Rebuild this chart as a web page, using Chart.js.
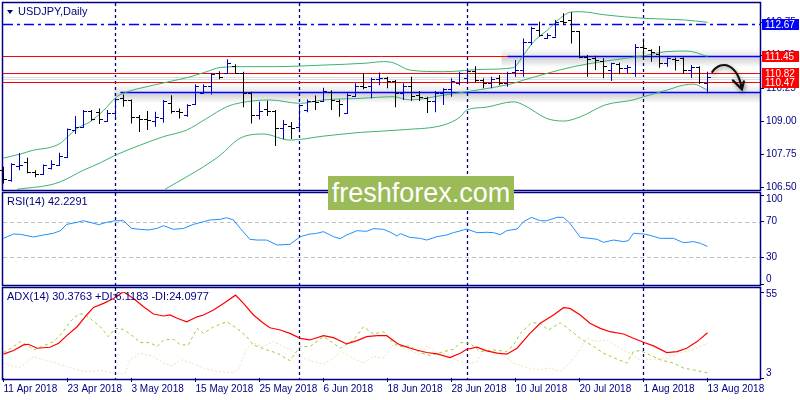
<!DOCTYPE html>
<html>
<head>
<meta charset="utf-8">
<script src="https://cdn.jsdelivr.net/npm/chart.js@4.4.0/dist/chart.umd.min.js"></script>
<style>
body { margin: 0; background: #fff; }
#quadro { position: relative; width: 800px; height: 400px; overflow: hidden; background: #fff; }
#quadro canvas { position: absolute; left: 0; }
.rotulo { position: absolute; left: 7px; font: 11px "Liberation Sans", Arial, sans-serif; color: #000080; white-space: nowrap; }
.triangulo { display: inline-block; width: 0; height: 0; border-left: 3px solid transparent; border-right: 3px solid transparent; border-top: 4px solid #000080; margin-right: 5px; vertical-align: 1px; }
#marca { position: absolute; left: 328px; top: 176px; width: 186px; height: 34px; background: #9bbb59; color: #fff;
  font: 27px "Liberation Sans", Arial, sans-serif; line-height: 34px; text-align: center; }
</style>
</head>
<body>
<div id="quadro">
  <canvas id="grafico-preco" width="800" height="192" style="top:0"></canvas>
  <canvas id="grafico-rsi" width="800" height="106" style="top:186px"></canvas>
  <canvas id="grafico-adx" width="800" height="118" style="top:282px"></canvas>
  <div class="rotulo" style="top:5px"><span class="triangulo"></span>USDJPY,Daily</div>
  <div class="rotulo" style="top:195px">RSI(14) 42.2291</div>
  <div class="rotulo" style="top:290px">ADX(14) 30.3763 +DI:6.1183 -DI:24.0977</div>
  <div id="marca">freshforex.com</div>
</div>
<script>
var aberturas = [107.14,106.77,107.30,107.46,107.08,106.99,107.21,107.33,107.65,108.68,
  108.78,109.38,109.35,109.01,109.29,109.86,109.80,109.16,109.06,109.01,
  109.10,109.69,109.39,109.23,109.64,110.05,110.33,110.83,110.83,111.08,
  110.83,110.05,109.23,109.47,109.38,108.72,108.81,108.78,109.42,109.77,
  109.77,110.11,109.77,109.31,109.95,110.34,110.33,110.58,110.64,110.52,
  110.05,110.33,109.98,109.86,109.76,110.05,110.20,110.45,110.62,110.91,
  110.55,110.43,110.64,110.43,110.86,110.93,112.00,112.45,112.16,112.19,
  112.79,112.83,112.41,111.44,111.40,111.28,110.93,111.16,111.00,110.81,
  111.79,111.69,111.53,111.19,111.35,111.38,110.93,111.06,110.43];
var maximas = [107.27,107.40,107.79,107.61,107.14,107.36,107.52,107.80,108.72,109.19,
  109.42,109.42,109.48,109.42,109.86,110.01,109.82,109.23,109.38,109.35,
  109.80,109.98,109.48,109.64,110.39,110.39,110.81,110.89,111.34,111.15,
  110.87,110.11,109.73,109.77,109.42,109.04,108.96,109.64,109.82,109.97,
  110.26,110.17,109.82,110.05,110.43,110.81,110.64,110.84,110.68,110.55,
  110.43,110.68,110.14,109.92,110.14,110.24,110.62,110.87,111.00,111.08,
  110.62,110.68,110.74,110.87,111.31,112.13,112.57,112.76,112.32,112.83,
  113.08,113.12,112.41,111.50,111.47,111.38,111.21,111.21,111.12,111.92,
  112.13,111.72,111.84,111.41,111.41,111.41,111.12,111.08,110.87];
var minimas = [106.64,106.70,107.14,107.02,106.87,106.99,107.17,107.33,107.62,108.51,
  108.76,109.01,108.89,108.97,109.10,109.54,108.91,108.59,108.66,108.78,
  108.94,109.29,109.10,109.16,109.61,110.02,110.01,110.58,110.81,110.81,
  109.52,108.91,109.06,109.19,108.06,108.31,108.32,108.66,109.33,109.42,
  109.73,109.42,109.16,109.29,109.92,110.20,109.86,110.36,110.24,109.52,
  109.80,109.77,109.76,109.31,109.33,109.61,109.92,110.36,110.43,110.47,
  110.24,110.24,110.36,110.30,110.68,110.68,111.88,112.19,112.13,112.19,
  112.64,111.94,111.38,110.68,110.93,110.62,110.52,110.77,110.81,110.68,
  111.31,111.25,111.02,111.06,110.91,110.78,110.64,110.40,110.05];
var fechamentos = [106.80,107.36,107.33,107.08,106.99,107.33,107.36,107.67,108.70,108.77,
  109.39,109.06,109.06,109.31,109.83,109.80,109.16,109.06,109.05,109.14,
  109.77,109.39,109.35,109.62,110.33,110.33,110.78,110.68,111.19,110.83,
  110.05,109.23,109.38,109.38,108.72,108.87,108.75,109.61,109.77,109.73,
  110.14,109.80,109.64,109.98,110.33,110.28,110.58,110.62,110.52,110.05,
  110.33,109.95,109.92,109.76,110.05,110.20,110.53,110.83,110.91,110.55,
  110.43,110.59,110.43,110.81,110.93,112.00,112.51,112.26,112.26,112.76,
  112.76,112.41,111.44,111.35,111.31,111.08,111.19,111.02,111.03,111.81,
  111.75,111.63,111.19,111.38,111.31,110.93,111.06,110.47,110.68];

// bandas de Bollinger
var bandaSupIdx = [0,2.1,3.75,5.8,7.1,8.1,9.2,10.8,12.5,14,14.6,18.75,22.9,25.4,27.1,30.2,33.7,40,45.2,47.5,48.7,50.8,55,60.2,63.7,65,66.25,68,69.6,70.8,72.1,75.2,80,85,88];
var bandaSupVal = [107.60,107.75,107.90,108.00,108.16,108.43,108.72,108.97,109.40,109.88,110.00,110.36,110.64,110.87,111.03,111.06,111.06,111.12,111.19,111.25,111.21,110.93,110.87,110.96,111.02,111.50,112.00,112.45,112.89,113.12,113.14,113.02,112.89,112.83,112.74];
var bandaMedIdx = [1.7,5.8,7.1,10,12.1,14,17.1,20,22.9,25.4,27.9,29.6,33.3,37.1,40,44.6,48.7,50.8,55,57.9,60.2,63.75,65,68,71.25,75.2,80,82.9,85.5,88];
var bandaMedVal = [106.42,106.58,106.70,107.14,107.42,107.71,108.09,108.41,108.66,109.10,109.54,109.69,109.80,109.67,109.80,109.86,109.92,109.80,109.98,110.11,110.22,110.43,110.55,110.81,111.06,111.27,111.47,111.63,111.65,111.45];
var bandaInfIdx = [20.2,22.9,25,27.1,29.2,30.2,32.5,35.8,40,44.6,50.4,55,57.1,57.9,60.2,63.75,65,67.9,70,72.1,75.2,78.7,80,82.9,85,86.2,88];
var bandaInfVal = [106.42,106.89,107.27,107.71,108.28,108.43,108.51,108.28,108.43,108.57,108.68,108.85,109.16,109.42,109.52,109.73,109.61,109.10,109.00,109.16,109.61,109.80,109.92,110.17,110.36,110.40,110.17];

// RSI(14)
var rsiIdx = [0,1.25,2.1,3.75,5,6.25,7.1,7.9,9.2,10,10.8,11.9,12.9,14,15,16,17.1,18.1,19.2,20,21.25,22.5,23.75,25,25.8,27.1,27.9,28.75,29.6,30.8,31.7,32.9,34.2,35.8,37.1,38.3,39,40,41.25,42.1,42.9,44.2,45.4,46.25,47.5,48.3,49.2,49.6,50.8,52.1,52.9,54.2,55.4,56.25,57.5,57.9,59.2,60.4,61.25,62.1,62.9,64.2,65,66,67.1,67.9,69.2,70,70.8,72.1,73.3,74.2,75,76.25,77.5,78.1,78.75,80,80.8,82.1,83.75,85,86.25,87.1,88];
var rsiVal = [51.3,56.2,55.8,52.8,55.1,57.0,59.9,67.0,69.3,71.1,69.3,66.7,69.3,71.1,71.1,62.5,61.4,60.7,62.5,65.5,61.4,62.5,67.0,70.0,71.9,72.7,74.5,71.9,62.5,50.2,49.4,49.4,43.8,44.6,53.2,56.2,56.6,58.8,53.2,50.9,55.1,59.9,59.2,62.2,61.4,58.4,53.9,56.6,52.4,51.3,49.4,53.2,55.1,57.7,60.7,61.8,57.7,58.1,57.7,55.4,59.9,61.8,70.0,74.9,71.1,71.1,74.9,74.9,68.2,52.4,51.3,50.2,46.8,49.4,47.6,48.7,57.0,56.2,54.7,51.3,51.3,46.4,47.6,45.7,42.2];
var rsiNiveis = [30, 70];
var rsiTicks = [0, 30, 70, 100];
var rsiTicksDesloc = [-5, 0, 0, 4];

// ADX(14), +DI, -DI
var adxIdx = [0,1.25,2.5,3.1,4.2,5.8,6.9,7.9,9.2,10.4,11.25,12.5,13.75,15,16.25,17.5,18.75,20,20.8,21.7,22.9,24.2,25,26.25,27.5,29,30,31.25,32.5,33.3,34.6,35.8,37.1,38.3,40,41.25,42.9,44.2,45.4,46.7,47.9,49.2,49.6,51.25,52.9,54.2,55.8,57.1,57.9,59.2,60.4,61.7,62.9,64.2,65.8,67.1,68.75,70,70.8,72.1,73.3,74.6,75.8,77.5,78.75,80,81.25,82.9,84.2,85.4,86.7,88];
var adxVal = [17.4,19.6,23.0,23.4,21.0,21.6,24.0,28.6,34.0,41.1,45.7,48.1,51.1,55.1,51.1,46.1,41.7,40.5,41.1,39.1,37.0,40.0,41.1,44.1,48.1,53.1,48.1,41.1,36.1,33.4,32.0,30.0,27.0,26.0,28.6,27.4,23.6,25.6,28.0,28.6,28.6,24.0,23.0,20.4,18.4,17.6,15.4,18.0,20.4,21.6,19.4,18.0,17.4,21.0,30.0,36.1,41.1,45.5,45.1,41.1,36.1,33.0,31.0,29.6,27.0,24.6,22.4,18.4,19.0,21.0,25.0,30.4];
var pdiIdx = [0,1.25,2.1,2.9,3.75,5,6.25,7.3,8.3,9.4,10,10.8,12.1,13.1,14,15,16.25,17.1,18.3,19.2,20,21.25,22.1,23.1,24.2,25,26.25,27.9,29.2,30.4,31.25,32.9,34.2,35.8,37.1,38.3,40,41.25,42.1,43.75,45,46.25,47.5,48.75,49.6,50.8,52.1,53.3,54.6,56.25,57.1,58.3,59.6,61.25,62.9,63.75,64.6,66,67.1,68.1,69.6,70.8,72.1,73.75,75,76.7,77.9,78.75,79.6,80.8,82.1,83.75,85,86.25,88];
var pdiVal = [18.4,22.0,25.0,23.0,20.0,22.4,25.0,30.0,37.0,41.7,41.7,39.1,34.0,28.0,33.0,32.4,28.0,24.4,24.4,22.0,26.0,26.4,23.0,23.0,33.0,30.0,34.0,37.0,33.0,28.0,23.0,20.0,18.0,13.5,22.0,22.0,28.0,24.0,21.0,26.0,34.0,29.6,31.0,24.0,22.0,22.4,18.4,16.6,18.4,20.4,24.4,24.0,19.0,20.0,19.0,23.0,30.0,36.4,36.1,32.0,36.4,32.0,27.0,22.0,18.0,14.4,12.0,19.0,19.6,17.0,14.0,12.0,9.0,7.9,6.1];
var mdiIdx = [0,1.25,2.1,3.75,5,6.25,7.9,9.2,10.4,12.1,13.3,14.6,15.2,15.8,17.1,18.75,20,21,22.3,23.75,25,26.7,28.75,29.4,30.4,31.25,32.5,33.75,35,36.25,37.5,38.75,40,41.25,42.1,43.3,45,46.25,47.5,48.75,49.6,50.8,52.1,52.9,54.2,55.4,56.7,58.3,59.2,60,61.25,62.5,63.75,65,66.7,68.3,69.6,70.8,72.1,72.9,74.2,75.4,76.7,78.3,79.6,81.25,82.9,84.6,86.25,88];
var mdiVal = [12.0,9.9,9.6,16.0,14.0,12.4,9.9,7.9,6.9,7.5,6.3,5.5,5.9,14.0,18.0,16.0,12.0,10.4,14.0,11.6,9.0,6.9,6.3,9.0,21.0,24.0,22.0,25.0,22.0,19.0,15.0,12.9,11.4,15.0,19.0,16.0,12.0,16.0,15.0,23.0,22.0,20.0,17.0,22.4,18.0,17.4,13.5,11.6,12.9,20.0,19.0,16.4,12.0,9.9,7.9,9.0,6.9,12.0,20.4,27.0,25.0,26.0,22.0,18.0,14.0,14.4,15.0,18.4,20.0,24.1];
var adxTicks = [3, 55];
var adxTicksDesloc = [-5, 2];

// eixo de datas, separadores de mês e níveis
var datasIdx = [0, 8, 16, 24, 32, 40, 48, 56, 64, 72, 80, 88];
var datasRotulos = ['11 Apr 2018','23 Apr 2018','3 May 2018','15 May 2018','25 May 2018','6 Jun 2018','18 Jun 2018','28 Jun 2018','10 Jul 2018','20 Jul 2018','1 Aug 2018','13 Aug 2018'];
var inicioMes = [14, 37, 58, 80];
var precoTicks = [106.50, 107.75, 109.00, 110.25, 111.50, 112.75];
var niveisVermelhos = [111.45, 110.82, 110.47];
var niveisCinza = [110.66, 110.60];
var niveisAzuis = [111.45, 110.09];
var niveisAzuisInicio = [63, 14.6];
var nivelTracejado = 112.67;
var rotulosValor = [112.67, 111.45, 110.82, 110.47];
var rotulosCor = ['#0000ff', '#ff0000', '#ff0000', '#ff0000'];
var setaIdx = [88.6, 89.8, 91.8, 92.3];
var setaVal = [110.86, 111.35, 111.15, 110.20];

var NAVY = '#000080';
var FONTE = '"Liberation Sans", Arial, sans-serif';

function pontos(xs, ys) {
    return xs.map(function (x, i) { return { x: x, y: ys[i] }; });
}

function eixoX(mostrar) {
    return {
        type: 'linear', min: -0.0625, max: 94.5625, offset: false, display: mostrar,
        afterFit: function (s) {
            s.paddingLeft = 0; s.paddingRight = 0;
            if (mostrar) { s.height = 22; }
        },
        afterBuildTicks: function (s) { s.ticks = datasIdx.map(function (v) { return { value: v }; }); },
        ticks: {
            autoSkip: false, maxRotation: 0, align: 'start', padding: 1, color: NAVY,
            font: { family: FONTE, size: 10 },
            callback: function (v, i) { return datasRotulos[i]; }
        },
        grid: { drawOnChartArea: false, drawTicks: true, tickLength: 4, color: NAVY },
        border: { display: false }
    };
}

// desloc: empurra o rótulo das pontas para dentro do painel (px, + para baixo)
function eixoY(min, max, valores, casas, desloc) {
    desloc = desloc || [];
    return {
        position: 'right', min: min, max: max,
        afterFit: function (s) { s.width = 40; s.paddingTop = 0; s.paddingBottom = 0; },
        afterBuildTicks: function (s) { s.ticks = valores.map(function (v) { return { value: v }; }); },
        ticks: {
            autoSkip: false, padding: 2, color: NAVY,
            font: function (c) {
                var d = desloc[c.index] || 0;
                return { family: FONTE, size: 10, lineHeight: d ? (Math.abs(d) * 2) + 'px' : 1.2 };
            },
            callback: function (v, i) {
                var t = Number(v).toFixed(casas), d = desloc[i] || 0;
                if (d > 0) { return ['', t]; }
                if (d < 0) { return [t, '']; }
                return t;
            }
        },
        grid: { drawOnChartArea: false, drawTicks: true, tickLength: 4, color: NAVY },
        border: { display: false }
    };
}

// moldura do painel
function borda(extraTopo, extraBase) {
    return {
        id: 'borda',
        afterDraw: function (chart) {
            var a = chart.chartArea, ctx = chart.ctx;
            ctx.save();
            ctx.strokeStyle = NAVY;
            ctx.lineWidth = 1.5;
            ctx.strokeRect(a.left - 0.5, a.top - extraTopo - 0.5, a.right - a.left + 1, a.bottom - a.top + extraTopo + extraBase + 1);
            ctx.restore();
        }
    };
}

// linhas tracejadas no início de cada mês
function separadores(extraTopo, extraBase) {
    return {
        id: 'separadores',
        beforeDatasetsDraw: function (chart) {
            var ctx = chart.ctx, a = chart.chartArea, x = chart.scales.x;
            ctx.save();
            ctx.strokeStyle = NAVY;
            ctx.lineWidth = 1.3;
            ctx.setLineDash([3, 3]);
            inicioMes.forEach(function (i) {
                var px = Math.floor(x.getPixelForValue(i)) + 0.5;
                ctx.beginPath();
                ctx.moveTo(px, a.top - extraTopo);
                ctx.lineTo(px, a.bottom + extraBase);
                ctx.stroke();
            });
            ctx.restore();
        }
    };
}

var niveis = {
    id: 'niveis',
    beforeDatasetsDraw: function (chart) {
        var ctx = chart.ctx, a = chart.chartArea, x = chart.scales.x, y = chart.scales.y;
        ctx.save();
        // sombras das linhas azuis
        niveisAzuis.forEach(function (v, i) {
            var py = y.getPixelForValue(v), x0 = x.getPixelForValue(niveisAzuisInicio[i]);
            var g = ctx.createLinearGradient(0, py - 8, 0, py + 11);
            g.addColorStop(0, 'rgba(0,0,0,0)');
            g.addColorStop(0.42, 'rgba(0,0,0,0.10)');
            g.addColorStop(0.5, 'rgba(0,0,0,0.18)');
            g.addColorStop(1, 'rgba(0,0,0,0)');
            ctx.fillStyle = g;
            ctx.fillRect(x0 - 6, py - 8, a.right - x0 + 6, 19);
        });
        ctx.lineWidth = 1;
        niveisCinza.forEach(function (v) {
            var py = Math.round(y.getPixelForValue(v)) + 0.5;
            ctx.strokeStyle = '#dcdcdc';
            ctx.beginPath(); ctx.moveTo(a.left, py); ctx.lineTo(a.right, py); ctx.stroke();
        });
        niveisVermelhos.forEach(function (v) {
            var py = Math.round(y.getPixelForValue(v)) + 0.5;
            ctx.strokeStyle = '#ff0000';
            ctx.beginPath(); ctx.moveTo(a.left, py); ctx.lineTo(a.right, py); ctx.stroke();
        });
        ctx.lineWidth = 1.5;
        ctx.strokeStyle = '#0000ff';
        niveisAzuis.forEach(function (v, i) {
            var py = Math.round(y.getPixelForValue(v)) + 0.5;
            ctx.beginPath(); ctx.moveTo(x.getPixelForValue(niveisAzuisInicio[i]), py); ctx.lineTo(a.right, py); ctx.stroke();
        });
        var pyt = Math.round(y.getPixelForValue(nivelTracejado)) + 0.5;
        ctx.setLineDash([10, 4, 3, 4]);
        ctx.beginPath(); ctx.moveTo(a.left, pyt); ctx.lineTo(a.right, pyt); ctx.stroke();
        ctx.restore();
    }
};

// tracinhos de abertura e fechamento das barras OHLC
var ticksOhlc = {
    id: 'ticksOhlc',
    afterDatasetsDraw: function (chart) {
        var ctx = chart.ctx, x = chart.scales.x, y = chart.scales.y;
        ctx.save();
        ctx.lineWidth = 1;
        for (var i = 0; i < aberturas.length; i++) {
            var px = x.getPixelForValue(i);
            ctx.strokeStyle = fechamentos[i] > aberturas[i] ? '#0000b4' : '#000000';
            var yo = Math.round(y.getPixelForValue(aberturas[i])) + 0.5;
            var yc = Math.round(y.getPixelForValue(fechamentos[i])) + 0.5;
            ctx.beginPath();
            ctx.moveTo(px - 3.5, yo); ctx.lineTo(px + 0.5, yo);
            ctx.moveTo(px - 0.5, yc); ctx.lineTo(px + 3.5, yc);
            ctx.stroke();
        }
        ctx.restore();
    }
};

var seta = {
    id: 'seta',
    afterDatasetsDraw: function (chart) {
        var ctx = chart.ctx, x = chart.scales.x, y = chart.scales.y;
        var p = setaIdx.map(function (v, i) { return [x.getPixelForValue(v), y.getPixelForValue(setaVal[i])]; });
        ctx.save();
        ctx.strokeStyle = '#111';
        ctx.lineWidth = 2.2;
        ctx.lineCap = 'round';
        ctx.shadowColor = 'rgba(0,0,0,0.45)';
        ctx.shadowBlur = 4;
        ctx.shadowOffsetX = 1;
        ctx.shadowOffsetY = 2;
        ctx.beginPath();
        ctx.moveTo(p[0][0], p[0][1]);
        ctx.bezierCurveTo(p[1][0], p[1][1], p[2][0], p[2][1], p[3][0], p[3][1]);
        ctx.moveTo(p[3][0] - 9, p[3][1] - 9);
        ctx.lineTo(p[3][0], p[3][1]);
        ctx.lineTo(p[3][0] + 2, p[3][1] - 8);
        ctx.stroke();
        ctx.restore();
    }
};

var rotulosNiveis = {
    id: 'rotulosNiveis',
    afterDraw: function (chart) {
        var ctx = chart.ctx, a = chart.chartArea, y = chart.scales.y;
        ctx.save();
        ctx.font = '10px ' + FONTE;
        ctx.textBaseline = 'middle';
        rotulosValor.forEach(function (v, i) {
            var py = Math.round(y.getPixelForValue(v));
            ctx.fillStyle = rotulosCor[i];
            ctx.fillRect(a.right + 2, py - 5, 37, 11);
            ctx.fillStyle = '#ffffff';
            ctx.fillText(v.toFixed(2), a.right + 5, py + 1);
        });
        ctx.restore();
    }
};

var linhasRsi = {
    id: 'linhasRsi',
    beforeDatasetsDraw: function (chart) {
        var ctx = chart.ctx, a = chart.chartArea, y = chart.scales.y;
        ctx.save();
        ctx.strokeStyle = '#c0c0c0';
        ctx.lineWidth = 1;
        ctx.setLineDash([4, 3]);
        rsiNiveis.forEach(function (v) {
            var py = Math.round(y.getPixelForValue(v)) + 0.5;
            ctx.beginPath(); ctx.moveTo(a.left, py); ctx.lineTo(a.right, py); ctx.stroke();
        });
        ctx.restore();
    }
};

var opcoesBase = {
    responsive: false, animation: false, events: [],
    plugins: { legend: { display: false }, tooltip: { enabled: false } }
};

// gráfico de preço
var barrasHL = aberturas.map(function (o, i) { return { x: i, y: [minimas[i], maximas[i]] }; });
var coresBarras = aberturas.map(function (o, i) { return fechamentos[i] > o ? '#0000b4' : '#000000'; });

var graficoPreco = new Chart(document.getElementById('grafico-preco'), {
    type: 'bar',
    data: {
        datasets: [
            { type: 'bar', data: barrasHL, backgroundColor: coresBarras, barThickness: 1, inflateAmount: 0, borderWidth: 0, order: 0 },
            { type: 'line', data: pontos(bandaSupIdx, bandaSupVal), borderColor: '#3cb371', borderWidth: 1, pointRadius: 0, cubicInterpolationMode: 'monotone', order: 1 },
            { type: 'line', data: pontos(bandaMedIdx, bandaMedVal), borderColor: '#3cb371', borderWidth: 1, pointRadius: 0, cubicInterpolationMode: 'monotone', order: 1 },
            { type: 'line', data: pontos(bandaInfIdx, bandaInfVal), borderColor: '#3cb371', borderWidth: 1, pointRadius: 0, cubicInterpolationMode: 'monotone', order: 1 }
        ]
    },
    options: Object.assign({}, opcoesBase, {
        layout: { padding: { left: 3, top: 3, bottom: 2, right: 0 } },
        scales: { x: eixoX(false), y: eixoY(106.39, 113.47, precoTicks, 2) }
    }),
    plugins: [borda(0, 0), separadores(0, 0), niveis, ticksOhlc, seta, rotulosNiveis]
});

// RSI
var graficoRsi = new Chart(document.getElementById('grafico-rsi'), {
    type: 'line',
    data: {
        datasets: [
            { data: pontos(rsiIdx, rsiVal), borderColor: '#1e90ff', borderWidth: 1, pointRadius: 0, tension: 0 }
        ]
    },
    options: Object.assign({}, opcoesBase, {
        layout: { padding: { left: 3, top: 9, bottom: 8, right: 0 } },
        scales: { x: eixoX(false), y: eixoY(0, 100, rsiTicks, 0, rsiTicksDesloc) }
    }),
    plugins: [borda(2, 1), separadores(2, 1), linhasRsi]
});

// ADX
var graficoAdx = new Chart(document.getElementById('grafico-adx'), {
    type: 'line',
    data: {
        datasets: [
            { data: pontos(adxIdx, adxVal), borderColor: '#ff0000', borderWidth: 1.2, pointRadius: 0, tension: 0 },
            { data: pontos(pdiIdx, pdiVal), borderColor: '#9acd32', borderWidth: 1, borderDash: [3, 3], pointRadius: 0, tension: 0 },
            { data: pontos(mdiIdx, mdiVal), borderColor: '#f5deb3', borderWidth: 1, borderDash: [2, 2], pointRadius: 0, tension: 0 }
        ]
    },
    options: Object.assign({}, opcoesBase, {
        layout: { padding: { left: 3, top: 10, bottom: 0, right: 0 } },
        scales: { x: eixoX(true), y: eixoY(3, 55, adxTicks, 0, adxTicksDesloc) }
    }),
    plugins: [borda(4, 1), separadores(4, 1)]
});
</script>
</body>
</html>
